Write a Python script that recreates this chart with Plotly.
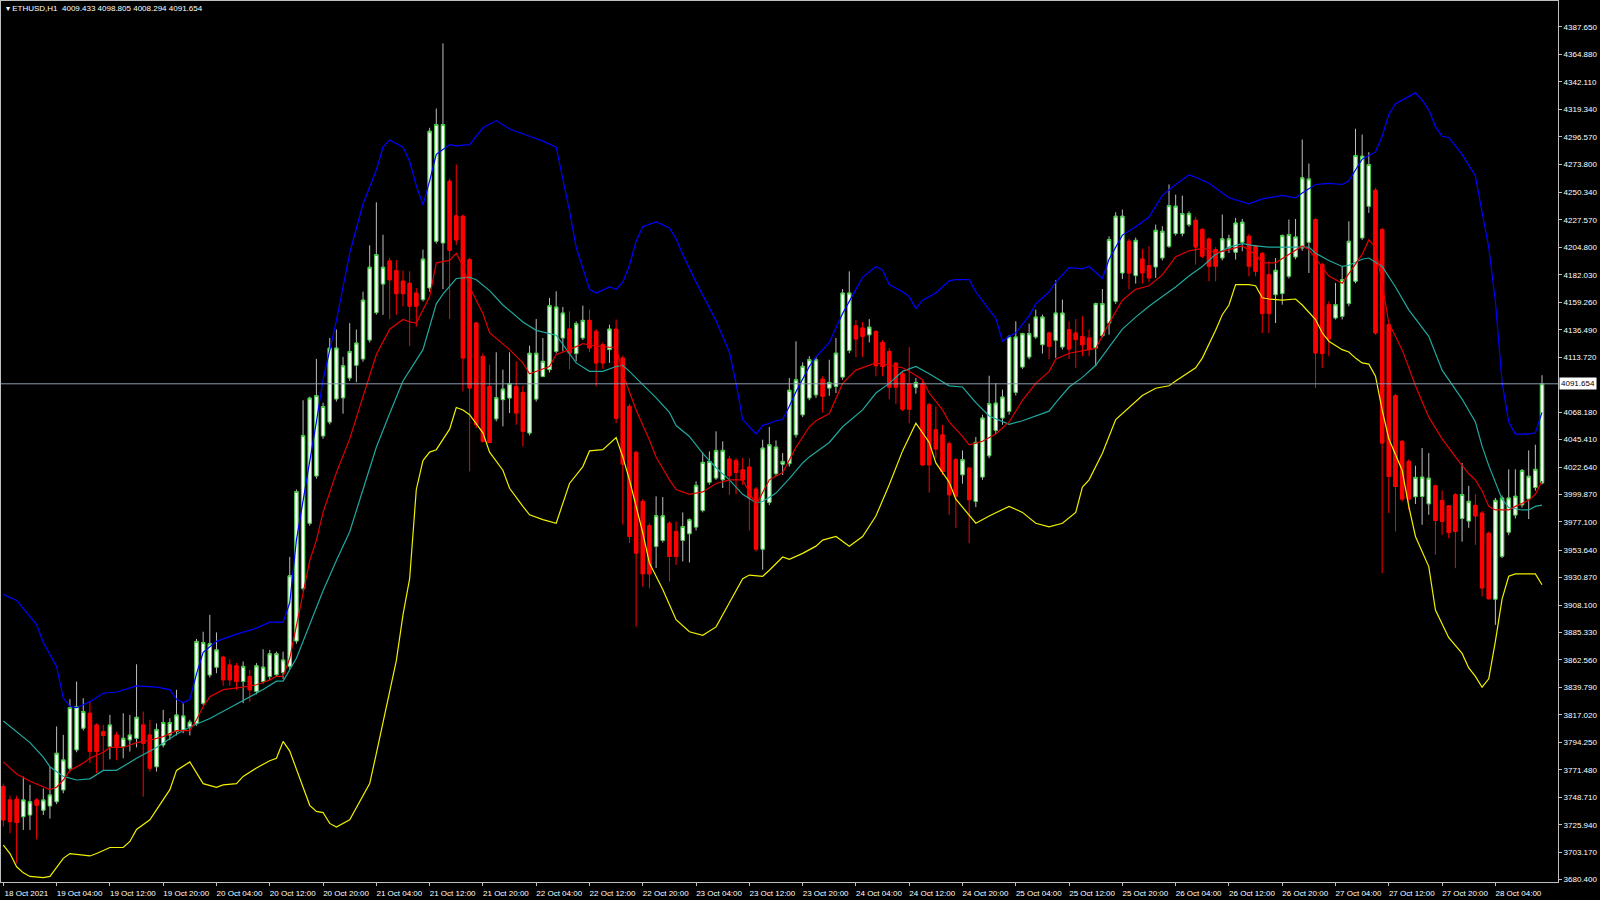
import plotly.graph_objects as go

symbol = "ETHUSD,H1"

# ---- OHLC (hourly bars, 18 Oct 20:00 -> 28 Oct 11:00) ----
open_ = [3757.6, 3746.5, 3747.0, 3732.6, 3734.0, 3746.5, 3738.0, 3741.5, 3745.0, 3754.8,
         3772.8, 3788.0, 3806.0, 3818.4, 3808.7, 3803.0, 3790.7, 3800.4, 3790.7, 3796.3,
         3797.6, 3808.7, 3800.4, 3774.0, 3792.1, 3800.4, 3803.2, 3804.6, 3807.0, 3810.0,
         3826.7, 3850.2, 3856.6, 3864.9, 3858.5, 3857.7, 3844.7, 3848.9, 3836.4, 3844.7,
         3848.9, 3850.4, 3852.1, 3857.3, 3878.3, 3921.9, 3976.0, 4015.2, 4048.4, 4059.9,
         4079.1, 4080.0, 4096.5, 4107.0, 4112.3, 4128.0, 4150.7, 4174.4, 4193.6, 4185.6,
         4176.9, 4175.0, 4167.0, 4161.5, 4171.2, 4209.9, 4208.5, 4259.7, 4231.0, 4230.7,
         4194.7, 4142.1, 4114.4, 4089.5, 4062.6, 4078.5, 4079.8, 4089.5, 4084.5, 4050.8,
         4079.0, 4097.8, 4103.4, 4118.6, 4129.7, 4137.1, 4116.7, 4129.7, 4144.3, 4135.2,
         4124.1, 4120.0, 4137.0, 4113.0, 4073.0, 4034.8, 3994.1, 3973.9, 3956.8, 3961.7,
         3976.0, 3969.2, 3961.7, 3967.3, 3972.8, 3986.6, 4009.9, 4013.5, 4012.1, 4029.2,
         4028.0, 4020.4, 4022.6, 4004.3, 3954.5, 3993.3, 4017.1, 4025.0, 4025.4, 4049.4,
         4066.0, 4079.9, 4082.5, 4095.5, 4088.1, 4089.5, 4097.2, 4119.3, 4139.8, 4138.0,
         4132.3, 4135.1, 4126.0, 4118.5, 4108.8, 4100.0, 4091.7, 4088.9, 4091.7, 4074.2,
         4053.5, 4049.3, 4042.0, 4028.7, 4016.2, 4021.8, 3994.1, 4014.3, 4032.0, 4053.0,
         4063.3, 4068.8, 4084.6, 4105.6, 4113.9, 4130.5, 4124.1, 4133.8, 4127.7, 4122.2,
         4136.6, 4133.8, 4131.0, 4129.7, 4121.4, 4131.6, 4142.1, 4160.1, 4183.6, 4209.9,
         4181.4, 4195.2, 4189.7, 4188.6, 4196.1, 4205.8, 4216.3, 4216.3, 4223.7, 4227.3,
         4219.6, 4211.8, 4203.0, 4196.1, 4204.4, 4200.8, 4209.1, 4214.0, 4206.3, 4199.7,
         4182.2, 4165.6, 4166.5, 4180.9, 4196.9, 4204.4, 4209.1, 4227.9, 4190.5, 4157.3,
         4146.3, 4147.6, 4158.2, 4176.7, 4212.7, 4239.0, 4252.2, 4219.6, 4140.7, 4081.8,
         4043.9, 4027.3, 3998.0, 3998.2, 3992.1, 4007.1, 3994.9, 3990.5, 3999.6, 3980.0,
         3977.8, 3990.8, 3984.5, 3967.7, 3913.0, 3948.6, 3968.6, 3982.8, 3991.3, 3996.1,
         4005.6, 4009.433]
high_ = [3760.0, 3750.0, 3750.0, 3765.9, 3759.0, 3748.0, 3756.0, 3774.0, 3807.4, 3800.4,
         3830.0, 3844.7, 3830.9, 3828.0, 3810.0, 3808.7, 3817.0, 3803.0, 3818.4, 3817.0,
         3859.0, 3819.8, 3813.0, 3810.0, 3821.2, 3814.3, 3837.8, 3826.7, 3813.0, 3880.0,
         3886.0, 3900.0, 3885.4, 3866.0, 3863.2, 3860.0, 3861.3, 3854.4, 3860.0, 3871.5,
         3871.0, 3869.5, 3869.5, 3948.1, 4004.0, 4078.0, 4081.0, 4112.3, 4076.0, 4129.7,
         4136.7, 4114.0, 4142.0, 4136.7, 4168.1, 4206.5, 4242.2, 4215.3, 4196.1, 4194.3,
         4185.6, 4185.0, 4171.0, 4203.0, 4304.0, 4320.0, 4374.0, 4262.0, 4273.5, 4232.0,
         4196.0, 4143.0, 4117.0, 4107.5, 4117.8, 4103.4, 4117.8, 4110.3, 4090.0, 4123.3,
         4145.4, 4129.6, 4162.9, 4168.4, 4155.4, 4151.8, 4143.5, 4156.5, 4153.2, 4137.0,
         4126.0, 4140.7, 4145.0, 4115.0, 4075.0, 4036.0, 3996.0, 3976.0, 3998.3, 3997.7,
         3977.5, 3977.5, 3985.0, 3980.0, 4010.7, 4034.8, 4035.6, 4052.2, 4043.9, 4032.0,
         4030.0, 4030.0, 4030.0, 4006.0, 4045.3, 4055.8, 4044.7, 4034.2, 4096.5, 4126.9,
         4109.5, 4114.5, 4114.0, 4098.0, 4111.6, 4129.6, 4170.3, 4184.9, 4144.8, 4143.0,
         4145.3, 4136.0, 4128.0, 4121.3, 4109.4, 4102.0, 4122.1, 4096.4, 4094.0, 4076.0,
         4072.8, 4057.6, 4044.0, 4030.0, 4036.4, 4022.6, 4047.5, 4066.0, 4098.4, 4092.3,
         4086.8, 4132.0, 4143.5, 4134.0, 4141.6, 4153.2, 4149.0, 4135.0, 4177.5, 4161.5,
         4143.5, 4145.4, 4147.7, 4136.6, 4159.0, 4170.3, 4214.0, 4234.0, 4236.2, 4212.0,
         4213.0, 4203.5, 4205.8, 4223.7, 4222.4, 4257.0, 4248.6, 4247.8, 4234.8, 4230.1,
         4221.0, 4213.0, 4205.0, 4232.0, 4215.4, 4229.3, 4228.4, 4216.0, 4207.0, 4201.0,
         4193.3, 4196.0, 4215.5, 4227.9, 4228.4, 4294.3, 4274.4, 4229.0, 4192.0, 4160.1,
         4175.3, 4189.2, 4226.5, 4303.2, 4298.4, 4283.8, 4254.0, 4221.0, 4142.0, 4083.0,
         4045.0, 4029.0, 4023.7, 4038.4, 4034.2, 4008.0, 4003.2, 3991.0, 4001.0, 4026.0,
         4007.0, 4000.0, 3986.0, 3969.0, 3997.0, 3999.0, 4020.7, 4020.7, 4021.0, 4036.4,
         4041.1, 4098.805]
low_ = [3724.4, 3718.8, 3693.9, 3721.6, 3721.6, 3713.8, 3734.0, 3731.0, 3743.0, 3752.0,
        3770.0, 3786.0, 3804.0, 3777.0, 3768.6, 3771.4, 3780.2, 3779.7, 3781.0, 3786.6,
        3790.0, 3749.2, 3770.0, 3770.0, 3790.0, 3796.3, 3800.0, 3801.8, 3800.0, 3808.0,
        3825.0, 3848.0, 3851.6, 3841.0, 3841.1, 3837.8, 3826.7, 3828.0, 3834.0, 3843.0,
        3846.0, 3848.6, 3846.9, 3855.0, 3876.0, 3920.0, 3974.0, 4013.0, 4046.0, 4058.0,
        4077.0, 4066.9, 4094.0, 4093.0, 4110.0, 4126.0, 4149.0, 4148.9, 4145.4, 4148.9,
        4155.9, 4123.0, 4139.0, 4160.0, 4168.0, 4208.0, 4170.3, 4145.4, 4207.0, 4085.4,
        4019.0, 4055.0, 4043.0, 4042.5, 4060.5, 4056.3, 4067.4, 4057.7, 4039.7, 4048.8,
        4077.0, 4097.0, 4101.0, 4117.0, 4118.6, 4103.9, 4110.3, 4128.0, 4118.0, 4089.6,
        4104.0, 4109.0, 4059.0, 3975.0, 3959.5, 3890.3, 3923.5, 3922.0, 3938.8, 3960.0,
        3927.7, 3941.5, 3944.3, 3943.5, 3970.0, 3985.0, 4008.0, 4012.0, 4005.2, 3999.6,
        4000.0, 4008.0, 3970.0, 3952.6, 3937.4, 3991.0, 4015.0, 4016.0, 4023.0, 4047.0,
        4064.0, 4078.0, 4080.0, 4067.9, 4081.7, 4084.0, 4095.0, 4117.0, 4113.8, 4114.0,
        4126.0, 4097.8, 4098.0, 4078.9, 4075.1, 4069.0, 4059.0, 4083.4, 4023.6, 4001.5,
        4030.0, 4016.0, 3983.0, 3972.0, 4008.8, 3959.5, 3989.4, 4012.0, 4030.0, 4050.0,
        4057.7, 4066.0, 4082.0, 4104.0, 4112.0, 4129.0, 4116.7, 4112.2, 4113.1, 4120.0,
        4112.2, 4104.8, 4114.5, 4114.5, 4106.2, 4130.0, 4132.4, 4158.0, 4178.6, 4170.3,
        4174.8, 4174.8, 4176.0, 4179.5, 4194.0, 4204.4, 4214.6, 4214.0, 4222.0, 4190.5,
        4196.0, 4176.7, 4176.7, 4194.0, 4200.2, 4194.7, 4201.6, 4180.9, 4180.9, 4133.8,
        4133.8, 4142.1, 4157.3, 4179.0, 4195.0, 4202.0, 4183.6, 4088.2, 4104.8, 4114.5,
        4145.0, 4145.0, 4156.0, 4175.0, 4211.0, 4233.4, 4132.4, 3934.6, 3984.4, 3969.2,
        3994.0, 3987.2, 3992.0, 3974.7, 3983.0, 3949.8, 3966.4, 3963.6, 3938.7, 3960.7,
        3972.2, 3958.1, 3915.3, 3913.0, 3891.7, 3947.0, 3966.0, 3980.0, 3989.0, 3979.5,
        4003.0, 4008.294]
close_ = [3729.9, 3728.5, 3727.7, 3746.5, 3745.0, 3742.0, 3746.5, 3750.6, 3785.2, 3779.7,
          3823.1, 3824.0, 3819.8, 3786.6, 3786.6, 3800.0, 3808.7, 3790.7, 3797.6, 3800.4,
          3815.0, 3793.5, 3772.8, 3805.0, 3810.7, 3810.7, 3817.0, 3816.2, 3811.0, 3878.0,
          3877.0, 3876.0, 3871.0, 3846.1, 3846.1, 3844.7, 3857.2, 3837.8, 3857.7, 3856.6,
          3867.7, 3867.8, 3862.6, 3932.4, 4002.3, 4048.7, 4079.8, 4081.9, 4072.8, 4121.3,
          4121.3, 4106.6, 4118.5, 4125.5, 4161.1, 4188.4, 4198.9, 4188.4, 4177.9, 4166.4,
          4166.4, 4156.0, 4156.0, 4195.2, 4301.2, 4306.7, 4306.7, 4202.4, 4211.0, 4113.0,
          4088.1, 4057.7, 4044.0, 4043.0, 4080.1, 4087.3, 4091.8, 4067.4, 4052.2, 4117.0,
          4117.0, 4110.3, 4156.5, 4155.4, 4150.4, 4117.2, 4141.6, 4144.3, 4121.4, 4108.9,
          4108.9, 4137.1, 4063.0, 4025.0, 3965.0, 3951.2, 3934.0, 3934.0, 3982.2, 3982.2,
          3948.4, 3948.4, 3973.3, 3978.9, 4007.4, 4026.5, 4027.3, 4036.4, 4036.4, 4015.4,
          4018.0, 4011.8, 3996.9, 3954.5, 4038.4, 4041.1, 4039.2, 4027.3, 4086.3, 4095.1,
          4106.2, 4111.7, 4111.6, 4081.2, 4092.8, 4117.1, 4167.0, 4167.0, 4128.8, 4131.0,
          4138.7, 4106.6, 4106.0, 4088.9, 4088.9, 4070.6, 4070.6, 4092.8, 4024.4, 4024.4,
          4037.5, 4018.9, 3999.6, 3998.5, 4028.7, 3995.5, 4043.1, 4063.3, 4075.2, 4075.7,
          4080.7, 4130.5, 4130.5, 4133.3, 4133.3, 4147.1, 4147.1, 4122.8, 4150.4, 4150.4,
          4120.5, 4128.3, 4124.0, 4120.0, 4158.2, 4158.2, 4211.3, 4230.7, 4230.7, 4183.6,
          4210.7, 4183.6, 4179.5, 4219.0, 4218.2, 4239.5, 4239.0, 4232.9, 4232.9, 4205.2,
          4197.5, 4189.2, 4189.2, 4211.9, 4211.9, 4225.1, 4225.7, 4189.2, 4185.0, 4149.9,
          4149.9, 4185.8, 4214.6, 4215.5, 4213.5, 4262.5, 4261.6, 4117.2, 4116.7, 4128.8,
          4157.3, 4178.0, 4209.9, 4281.0, 4280.5, 4273.5, 4133.8, 4042.5, 4014.8, 4006.5,
          3996.0, 3996.0, 4014.0, 4014.3, 4013.4, 3978.3, 3977.5, 3968.3, 3969.2, 3999.8,
          3994.2, 3982.1, 3922.3, 3913.3, 3995.0, 3997.0, 3997.0, 3998.4, 4019.8, 4015.0,
          4020.7, 4091.654]

# ---- time axis labels (every 8 bars) ----
x_tick_bars = [0, 8, 16, 24, 32, 40, 48, 56, 64, 72, 80, 88, 96, 104, 112, 120, 128, 136,
               144, 152, 160, 168, 176, 184, 192, 200, 208, 216, 224]
x_tick_labels = ["18 Oct 2021", "19 Oct 04:00", "19 Oct 12:00", "19 Oct 20:00", "20 Oct 04:00",
                 "20 Oct 12:00", "20 Oct 20:00", "21 Oct 04:00", "21 Oct 12:00", "21 Oct 20:00",
                 "22 Oct 04:00", "22 Oct 12:00", "22 Oct 20:00", "23 Oct 04:00", "23 Oct 12:00",
                 "23 Oct 20:00", "24 Oct 04:00", "24 Oct 12:00", "24 Oct 20:00", "25 Oct 04:00",
                 "25 Oct 12:00", "25 Oct 20:00", "26 Oct 04:00", "26 Oct 12:00", "26 Oct 20:00",
                 "27 Oct 04:00", "27 Oct 12:00", "27 Oct 20:00", "28 Oct 04:00"]

# ---- price axis labels ----
y_tick_labels = ["4387.650", "4364.880", "4342.110", "4319.340", "4296.570", "4273.800",
                 "4250.340", "4227.570", "4204.800", "4182.030", "4159.260", "4136.490",
                 "4113.720", "4068.180", "4045.410", "4022.640", "3999.870", "3977.100",
                 "3953.640", "3930.870", "3908.100", "3885.330", "3862.560", "3839.790",
                 "3817.020", "3794.250", "3771.480", "3748.710", "3725.940", "3703.170",
                 "3680.400"]

# ---- indicator lines ----
upper_x = [0, 2, 5, 6, 8, 9, 10, 11, 13, 15, 17, 20, 23, 25, 26, 27, 28, 29, 30, 32, 35, 38, 40, 42,
           43, 44, 47, 48, 50, 52, 54, 56, 57, 58, 60, 61, 62, 63, 64, 65, 67, 68, 70, 72, 74, 76,
           79, 81, 83, 85, 86, 87, 88, 89, 91, 92, 93, 94, 95, 96, 98, 100, 101, 102, 104, 107,
           109, 110, 111, 113, 114, 116, 117, 118, 119, 121, 122, 124, 126, 128, 129, 131, 132,
           133, 135, 136, 137, 138, 140, 142, 143, 145, 146, 148, 149, 150, 151, 152, 154, 155,
           157, 158, 160, 162, 163, 165, 166, 168, 170, 172, 174, 176, 178, 179, 181, 184, 186,
           187, 189, 192, 194, 195, 197, 199, 201, 202, 203, 204, 206, 207, 208, 209, 212, 213,
           214, 215, 216, 217, 219, 221, 222, 223, 224, 225, 226, 227, 229, 230, 231]
upper_y = [3917, 3912, 3892, 3877, 3857, 3831, 3824, 3823, 3828, 3835, 3836, 3841, 3840, 3838, 3830,
           3827, 3830, 3851, 3869, 3878, 3884, 3889, 3894, 3894, 3910, 3962, 4060, 4095, 4144,
           4200, 4241, 4269, 4288, 4294, 4288, 4276, 4256, 4240, 4260, 4282, 4290, 4289, 4290,
           4304, 4310, 4303, 4297, 4293, 4288, 4235, 4205, 4188, 4170, 4167, 4172, 4170, 4176,
           4190, 4210, 4222, 4226, 4221, 4212, 4199, 4176, 4144, 4118, 4092, 4062, 4050, 4057,
           4061, 4062, 4073, 4085, 4106, 4114, 4126, 4150, 4170, 4180, 4189, 4186, 4174, 4168,
           4164, 4154, 4161, 4167, 4177, 4178, 4178, 4168, 4153, 4146, 4127, 4131, 4134, 4148,
           4158, 4168, 4176, 4188, 4187, 4189, 4179, 4195, 4215, 4222, 4230, 4248, 4257, 4265,
           4263, 4258, 4246, 4243, 4241, 4245, 4248, 4246, 4250, 4257, 4258, 4257, 4260, 4269,
           4278, 4284, 4297, 4315, 4324, 4333, 4327, 4319, 4305, 4297, 4296, 4282, 4264, 4234,
           4205, 4160, 4093, 4060, 4050, 4050, 4051, 4068]

mid_x = [0, 2, 4, 6, 7, 9, 11, 13, 15, 17, 20, 23, 26, 28, 31, 34, 37, 39, 41, 42, 44, 46, 48, 50,
         52, 54, 56, 58, 60, 63, 65, 66, 68, 70, 71, 73, 75, 78, 80, 83, 85, 86, 88, 90, 92, 93,
         94, 96, 98, 100, 101, 103, 105, 107, 109, 111, 113, 114, 116, 118, 120, 121, 122, 124,
         126, 129, 131, 133, 135, 137, 139, 141, 142, 144, 146, 148, 150, 151, 153, 155, 157,
         158, 160, 162, 164, 166, 168, 170, 172, 174, 176, 178, 180, 182, 184, 186, 188, 190,
         192, 194, 196, 197, 199, 201, 202, 204, 205, 207, 209, 211, 214, 216, 219, 221, 222,
         223, 224, 225, 226, 228, 229, 230, 231]
mid_y = [3812, 3803, 3794, 3782, 3774, 3766, 3763, 3764, 3771, 3771, 3781, 3790, 3801, 3807, 3814,
         3823, 3832, 3838, 3845, 3845, 3864, 3892, 3920, 3945, 3969, 4004, 4039, 4067, 4094,
         4120, 4158, 4166, 4179, 4180, 4178, 4169, 4157, 4143, 4136, 4132, 4116, 4109, 4102,
         4102, 4106, 4107, 4102, 4091, 4080, 4068, 4057, 4048, 4034, 4022, 4012, 4000, 3993,
         3994, 4001, 4013, 4026, 4031, 4035, 4043, 4056, 4070, 4084, 4092, 4102, 4106, 4100,
         4093, 4090, 4089, 4076, 4065, 4060, 4058, 4061, 4065, 4069, 4076, 4089, 4097, 4107,
         4122, 4137, 4147, 4156, 4164, 4172, 4181, 4189, 4199, 4205, 4208, 4206, 4205, 4205,
         4205, 4205, 4200, 4194, 4189, 4190, 4195, 4196, 4189, 4172, 4153, 4131, 4103, 4079,
         4060, 4040, 4024, 4010, 3996, 3989, 3987, 3987, 3990, 3991]

fast_x = [0, 2, 4, 6, 7, 8, 9, 10, 12, 13, 15, 16, 18, 20, 22, 24, 26, 28, 29, 30, 31, 33, 36, 38,
          40, 41, 42, 43, 44, 45, 46, 47, 48, 50, 52, 54, 56, 58, 60, 61, 62, 64, 65, 67, 68, 69,
          70, 72, 73, 76, 78, 79, 80, 82, 83, 85, 87, 89, 91, 92, 93, 95, 97, 98, 100, 101, 103,
          105, 107, 109, 111, 112, 113, 115, 116, 117, 119, 121, 122, 124, 126, 128, 131, 133,
          135, 136, 138, 139, 141, 142, 144, 145, 147, 149, 151, 153, 155, 157, 158, 160, 162,
          164, 166, 168, 170, 172, 174, 176, 178, 180, 181, 182, 184, 186, 188, 189, 191, 193,
          194, 195, 196, 198, 199, 201, 202, 204, 205, 206, 207, 208, 210, 212, 214, 216, 218,
          219, 220, 221, 222, 223, 224, 226, 227, 229, 230, 231]
fast_y = [3778, 3768, 3762, 3757, 3755, 3757, 3763, 3771, 3777, 3781, 3786, 3790, 3790, 3794, 3796,
          3799, 3804, 3804, 3813, 3824, 3832, 3838, 3840, 3842, 3846, 3849, 3849, 3864, 3892,
          3920, 3945, 3962, 3985, 4018, 4046, 4081, 4116, 4137, 4145, 4143, 4142, 4164, 4192,
          4194, 4200, 4189, 4172, 4150, 4134, 4120, 4109, 4100, 4102, 4106, 4116, 4120, 4125,
          4123, 4122, 4122, 4100, 4070, 4045, 4031, 4012, 4004, 4000, 4002, 4009, 4012, 4012,
          4001, 3991, 4012, 4015, 4018, 4039, 4056, 4061, 4067, 4092, 4103, 4109, 4107, 4105,
          4102, 4095, 4084, 4070, 4060, 4048, 4041, 4044, 4050, 4060, 4078, 4092, 4102, 4112,
          4117, 4119, 4121, 4142, 4161, 4170, 4173, 4182, 4197, 4202, 4204, 4203, 4200, 4203,
          4206, 4199, 4192, 4192, 4199, 4202, 4206, 4203, 4188, 4181, 4175, 4183, 4199, 4211,
          4205, 4175, 4142, 4120, 4090, 4064, 4046, 4031, 4024, 4017, 4012, 4003, 3990, 3987,
          3987, 3990, 3995, 4000, 4011]

lower_x = [0, 1, 2, 3, 4, 6, 7, 8, 9, 10, 12, 13, 14, 16, 18, 19, 20, 22, 25, 26, 28, 29, 30, 32,
           33, 35, 36, 38, 40, 41, 42, 43, 45, 46, 47, 48, 49, 50, 52, 53, 55, 56, 58, 59, 60, 61,
           62, 63, 64, 65, 67, 68, 69, 70, 72, 73, 75, 76, 78, 79, 81, 83, 85, 87, 88, 90, 92, 93,
           94, 96, 97, 99, 101, 103, 105, 107, 109, 111, 112, 114, 115, 117, 118, 120, 122, 123,
           125, 127, 129, 131, 133, 135, 137, 139, 140, 142, 143, 145, 146, 148, 151, 153, 155,
           157, 159, 161, 162, 163, 165, 167, 169, 171, 173, 175, 176, 179, 180, 182, 183, 184,
           185, 187, 188, 189, 190, 192, 194, 195, 197, 198, 199, 201, 202, 203, 204, 205, 206,
           207, 208, 210, 211, 212, 214, 215, 217, 219, 220, 221, 222, 223, 224, 225, 226, 227,
           230, 231]
lower_y = [3709, 3702, 3691, 3686, 3683, 3682, 3683, 3691, 3698, 3702, 3701, 3700, 3702, 3707, 3707,
           3712, 3722, 3730, 3755, 3771, 3778, 3769, 3760, 3757, 3759, 3760, 3766, 3773, 3779,
           3781, 3795, 3787, 3756, 3742, 3737, 3736, 3727, 3724, 3730, 3740, 3760, 3785, 3836,
           3862, 3900, 3930, 4004, 4028, 4035, 4037, 4054, 4072, 4070, 4066, 4051, 4035, 4020,
           4005, 3990, 3983, 3979, 3976, 4009, 4023, 4036, 4037, 4047, 4031, 4012, 3968, 3943,
           3921, 3896, 3886, 3883, 3890, 3910, 3930, 3933, 3932, 3937, 3948, 3946, 3951, 3957,
           3962, 3965, 3957, 3965, 3982, 4008, 4036, 4059, 4043, 4026, 4010, 3996, 3982, 3976,
           3982, 3990, 3985, 3976, 3973, 3976, 3985, 4006, 4012, 4034, 4062, 4072, 4082, 4088,
           4090, 4094, 4105, 4113, 4136, 4149, 4157, 4174, 4174, 4173, 4163, 4162, 4161, 4162,
           4157, 4145, 4134, 4127, 4120, 4118, 4113, 4109, 4108, 4098, 4070, 4046, 4020, 3990,
           3965, 3940, 3904, 3881, 3868, 3856, 3849, 3840, 3847, 3878, 3913, 3932, 3934, 3934,
           3925]

bars = list(range(len(close_)))
body_high = [max(o, c) for o, c in zip(open_, close_)]
body_low = [min(o, c) for o, c in zip(open_, close_)]
last_o, last_h, last_l, last_c = open_[-1], high_[-1], low_[-1], close_[-1]

FONT = "Liberation Sans"
FS = 8
fig = go.Figure()

# wicks (+ base bodies)
fig.add_trace(go.Candlestick(
    x=bars, open=open_, high=high_, low=low_, close=close_,
    increasing=dict(line=dict(color="#bdbdbd", width=1), fillcolor="#ffffff"),
    decreasing=dict(line=dict(color="#ff0000", width=1), fillcolor="#ff0000"),
    whiskerwidth=0, hoverinfo="skip"))
# bodies with thin outline
fig.add_trace(go.Candlestick(
    x=bars, open=open_, high=body_high, low=body_low, close=close_,
    increasing=dict(line=dict(color="#00c400", width=0.7), fillcolor="#ffffff"),
    decreasing=dict(line=dict(color="#ff0000", width=0.7), fillcolor="#ff0000"),
    whiskerwidth=0, hoverinfo="skip"))

fig.add_trace(go.Scatter(x=upper_x, y=upper_y, mode="lines", line=dict(color="#0000ff", width=1.2)))
fig.add_trace(go.Scatter(x=lower_x, y=lower_y, mode="lines", line=dict(color="#f0f000", width=1.2)))
fig.add_trace(go.Scatter(x=mid_x, y=mid_y, mode="lines", line=dict(color="#20a8a0", width=1.2)))
fig.add_trace(go.Scatter(x=fast_x, y=fast_y, mode="lines", line=dict(color="#e00000", width=1.2)))

fig.add_shape(type="line", xref="paper", x0=0, x1=1, yref="y", y0=last_c, y1=last_c,
              line=dict(color="#8a9bb0", width=1), layer="above")

fig.add_annotation(x=1, xref="paper", xanchor="left", y=last_c, yref="y",
                   text=f"{last_c:.3f}", showarrow=False, bgcolor="#ffffff",
                   font=dict(family=FONT, size=FS, color="#000000"), borderpad=1, xshift=1)

fig.add_annotation(x=0, xref="paper", xanchor="left", y=1, yref="paper", yanchor="top",
                   text=f"▾ {symbol}  {last_o:.3f} {last_h:.3f} {last_l:.3f} {last_c:.3f}",
                   showarrow=False, font=dict(family=FONT, size=FS, color="#ffffff"),
                   xshift=3, yshift=-1)

fig.update_layout(
    width=1600, height=900,
    margin=dict(l=1, r=42, t=1, b=18),
    paper_bgcolor="#000000", plot_bgcolor="#000000",
    showlegend=False,
    boxgap=0.28,
    font=dict(family=FONT, size=FS, color="#ffffff"),
    xaxis=dict(range=[-0.35, 233.4], rangeslider=dict(visible=False), showgrid=False,
               zeroline=False, showline=True, mirror=True, linecolor="#c0c0c0", linewidth=1,
               tickmode="array", tickvals=x_tick_bars, ticktext=x_tick_labels,
               ticks="outside", ticklen=3, tickcolor="#c0c0c0", ticklabelshift=23,
               tickfont=dict(family=FONT, size=FS, color="#ffffff")),
    yaxis=dict(range=[3678.4, 4409.2], side="right", showgrid=False, zeroline=False,
               showline=True, mirror=True, linecolor="#c0c0c0", linewidth=1,
               tickmode="array", tickvals=[float(t) for t in y_tick_labels],
               ticktext=y_tick_labels, ticks="outside", ticklen=3, tickcolor="#c0c0c0",
               tickfont=dict(family=FONT, size=FS, color="#ffffff")),
)

fig.write_html("out.html",
               config={"displayModeBar": False},
               post_script="document.body.style.margin='0';document.body.style.background='#000';")
